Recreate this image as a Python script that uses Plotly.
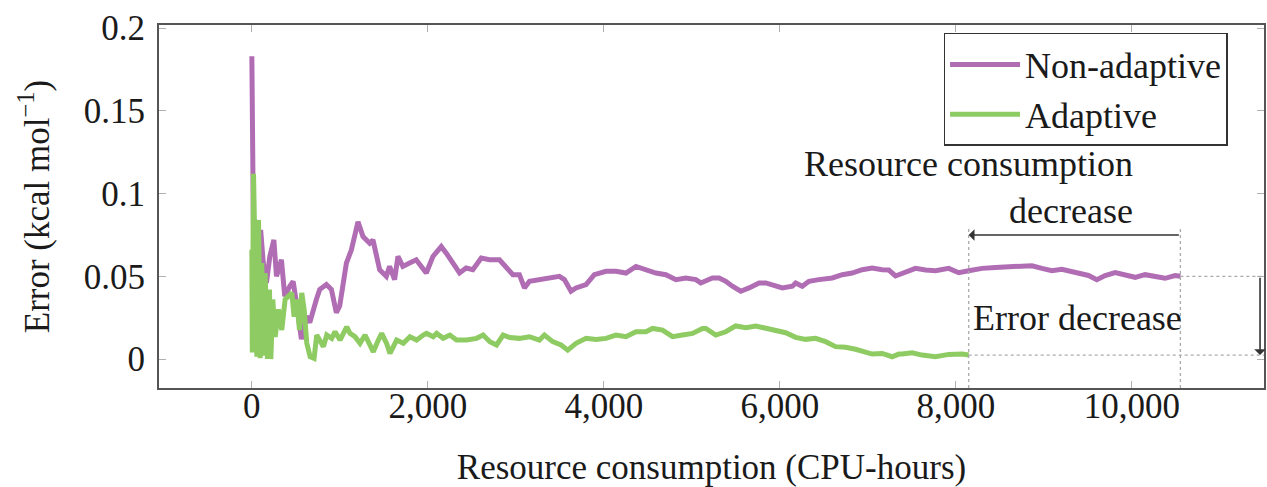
import plotly.graph_objects as go

# ---------------- data ----------------
nonadaptive_x = [0, 20, 40, 70, 100, 130, 166, 204, 250, 280, 336, 374, 431, 469, 507, 563, 620, 658,
                 733, 771, 847, 904, 960, 998, 1074, 1131, 1206, 1263, 1339, 1376, 1452, 1528, 1565,
                 1622, 1660, 1716, 1792, 1868, 1925, 1982, 2057, 2152, 2209, 2284, 2360, 2435, 2511,
                 2606, 2700, 2813, 2889, 2965, 3040, 3097, 3154, 3267, 3381, 3494, 3551, 3626, 3683,
                 3797, 3891, 4024, 4137, 4250, 4364, 4477, 4591, 4704, 4818, 4931, 5045, 5101, 5196,
                 5233, 5309, 5385, 5460, 5555, 5649, 5763, 5839, 5914, 6027, 6141, 6179, 6254, 6330,
                 6443, 6595, 6708, 6821, 6935, 7048, 7162, 7237, 7313, 7427, 7540, 7654, 7767, 7918,
                 8032, 8145, 8296, 8448, 8599, 8750, 8863, 8977, 9090, 9203, 9317, 9430, 9506, 9600,
                 9695, 9809, 9922, 10036, 10149, 10263, 10376, 10490, 10550]
nonadaptive_y = [0.183, 0.066, 0.084, 0.070, 0.078, 0.058, 0.046, 0.062, 0.072, 0.050, 0.060, 0.038,
                 0.044, 0.047, 0.034, 0.012, 0.026, 0.022, 0.036, 0.042, 0.045, 0.042, 0.028, 0.032,
                 0.058, 0.066, 0.083, 0.074, 0.070, 0.072, 0.054, 0.050, 0.056, 0.048, 0.062, 0.056,
                 0.058, 0.060, 0.056, 0.052, 0.062, 0.068, 0.064, 0.058, 0.052, 0.055, 0.054, 0.061,
                 0.060, 0.060, 0.056, 0.051, 0.051, 0.043, 0.047, 0.048, 0.049, 0.050, 0.048, 0.041,
                 0.043, 0.045, 0.051, 0.053, 0.053, 0.052, 0.056, 0.054, 0.052, 0.051, 0.048, 0.049,
                 0.048, 0.046, 0.048, 0.049, 0.049, 0.047, 0.044, 0.041, 0.043, 0.046, 0.046, 0.045,
                 0.043, 0.044, 0.046, 0.044, 0.047, 0.048, 0.049, 0.051, 0.052, 0.054, 0.055, 0.054,
                 0.0538, 0.0502, 0.0528, 0.0548, 0.0538, 0.0534, 0.0548, 0.0522, 0.0534, 0.0548,
                 0.0554, 0.0558, 0.0562, 0.0564, 0.0548, 0.0534, 0.0542, 0.0528, 0.0518, 0.0505,
                 0.0480, 0.0505, 0.0522, 0.0505, 0.0494, 0.0510, 0.0500, 0.0488, 0.0505, 0.0500]

adaptive_x = [0, 5, 19, 40, 57, 76, 95, 113, 132, 151, 178, 200, 216, 238, 265, 303, 340, 378, 416,
              454, 480, 510, 541, 567, 594, 624, 662, 707, 737, 775, 813, 851, 907, 945, 1002, 1078,
              1115, 1172, 1229, 1286, 1342, 1380, 1437, 1475, 1531, 1569, 1645, 1721, 1796, 1872,
              1948, 1985, 2061, 2099, 2174, 2250, 2326, 2439, 2553, 2628, 2704, 2780, 2855, 2931,
              3040, 3154, 3267, 3324, 3418, 3513, 3589, 3683, 3797, 3910, 4024, 4137, 4250, 4364,
              4477, 4553, 4666, 4780, 4893, 5007, 5120, 5158, 5271, 5385, 5498, 5612, 5725, 5839,
              5952, 6065, 6179, 6292, 6405, 6519, 6632, 6746, 6859, 6973, 7048, 7162, 7275, 7351,
              7389, 7502, 7616, 7767, 7918, 8070, 8145]
adaptive_y = [0.066, 0.004, 0.112, 0.030, 0.0014, 0.084, 0.0005, 0.058, 0.002, 0.052, 0.000, 0.042,
              0.000, 0.036, 0.0133, 0.030, 0.0175, 0.036, 0.038, 0.040, 0.0256, 0.036, 0.0175, 0.040,
              0.030, 0.0097, 0.0014, 0.0004, 0.0145, 0.0115, 0.0075, 0.0145, 0.0125, 0.0165, 0.0115,
              0.0195, 0.0155, 0.0135, 0.0095, 0.0145, 0.0075, 0.0044, 0.0115, 0.0155, 0.0095, 0.0034,
              0.0115, 0.0095, 0.0135, 0.0115, 0.0145, 0.0155, 0.0135, 0.0155, 0.0125, 0.0145, 0.0115,
              0.0115, 0.0125, 0.0145, 0.0105, 0.0085, 0.0145, 0.0130, 0.0125, 0.0135, 0.0115, 0.0145,
              0.0105, 0.0085, 0.0054, 0.0095, 0.0125, 0.0118, 0.0125, 0.0145, 0.0135, 0.0165, 0.0165,
              0.0185, 0.0175, 0.0135, 0.0145, 0.0155, 0.0185, 0.0185, 0.0145, 0.0165, 0.0200, 0.0190,
              0.0200, 0.0185, 0.0171, 0.0159, 0.0131, 0.0119, 0.0125, 0.0105, 0.0075, 0.0071, 0.0059,
              0.0044, 0.0030, 0.0034, 0.0014, 0.0030, 0.0030, 0.0038, 0.0024, 0.0014, 0.0028, 0.0030,
              0.0024]

x_ticks = [0, 2000, 4000, 6000, 8000, 10000]
y_ticks = [0, 0.05, 0.1, 0.15, 0.2]
series_names = ["Non-adaptive", "Adaptive"]

# ---------------- styling ----------------
FONT = "Liberation Serif"
FS = 35
PURPLE = "#b06db4"
GREEN = "#8ecb63"
X_RANGE = [-1055, 11500]
Y_RANGE = [-0.0175, 0.2019]

fig = go.Figure()
fig.add_trace(go.Scatter(x=nonadaptive_x, y=nonadaptive_y, mode="lines", name=series_names[0],
                         line=dict(color=PURPLE, width=5)))
fig.add_trace(go.Scatter(x=adaptive_x, y=adaptive_y, mode="lines", name=series_names[1],
                         line=dict(color=GREEN, width=5)))

end_na_x, end_na_y = nonadaptive_x[-1], nonadaptive_y[-1]
end_a_x, end_a_y = adaptive_x[-1], adaptive_y[-1]
arrow_y = 0.075
down_x = 11455

dot = dict(color="#aaaaaa", width=1.3, dash="dot")
shapes = [
    dict(type="line", xref="x", yref="y", x0=end_a_x, x1=end_a_x, y0=Y_RANGE[0], y1=0.080, line=dot),
    dict(type="line", xref="x", yref="y", x0=end_na_x, x1=end_na_x, y0=Y_RANGE[0], y1=0.080, line=dot),
    dict(type="line", xref="x", yref="y", x0=end_na_x, x1=X_RANGE[1], y0=end_na_y, y1=end_na_y, line=dot),
    dict(type="line", xref="x", yref="y", x0=end_a_x, x1=X_RANGE[1], y0=end_a_y, y1=end_a_y, line=dot),
]

annotations = [
    dict(x=end_a_x, y=arrow_y, ax=end_na_x, ay=arrow_y, xref="x", yref="y", axref="x", ayref="y",
         text="", showarrow=True, arrowhead=1, arrowsize=1.2, arrowwidth=1.6, arrowcolor="#333333"),
    dict(x=down_x, y=end_a_y, ax=down_x, ay=end_na_y, xref="x", yref="y", axref="x", ayref="y",
         text="", showarrow=True, arrowhead=1, arrowsize=1.2, arrowwidth=1.6, arrowcolor="#333333"),
    dict(x=10030, y=0.1034, xref="x", yref="y", text="Resource consumption<br>decrease",
         showarrow=False, xanchor="right", yanchor="middle", align="right",
         font=dict(family=FONT, size=36, color="#1a1a1a")),
    dict(x=8168, y=0.0248, xref="x", yref="y", text="Error decrease",
         showarrow=False, xanchor="left", yanchor="middle", align="left",
         font=dict(family=FONT, size=36, color="#1a1a1a")),
]

axis_common = dict(showgrid=False, zeroline=False, showline=True, linecolor="#555555", linewidth=2,
                   mirror="ticks", ticks="inside", ticklen=7, tickcolor="#b0b0b0", tickwidth=1.2,
                   tickfont=dict(family=FONT, size=FS, color="#1a1a1a"))

fig.update_layout(
    width=1267, height=487,
    margin=dict(l=159, r=1, t=25, b=99),
    plot_bgcolor="white", paper_bgcolor="white",
    font=dict(family=FONT, size=FS, color="#1a1a1a"),
    xaxis=dict(range=X_RANGE, tickvals=x_ticks, tickformat=",", ticklabelstandoff=-14,
               title=dict(text="Resource consumption (CPU-hours)", standoff=30,
                          font=dict(family=FONT, size=FS)),
               **axis_common),
    yaxis=dict(range=Y_RANGE, tickvals=y_ticks, ticklabelstandoff=5,
               ticktext=[f"{v:g}" for v in y_ticks],
               title=dict(text="Error (kcal mol<sup>−1</sup>)", standoff=24,
                          font=dict(family=FONT, size=FS)),
               **axis_common),
    legend=dict(x=0.710, y=0.978, xanchor="left", yanchor="top", bgcolor="white",
                bordercolor="#333333", borderwidth=1.5, itemwidth=70,
                font=dict(family=FONT, size=36, color="#1a1a1a"), tracegroupgap=0),
    shapes=shapes,
    annotations=annotations,
    showlegend=True,
)

fig.write_html("out.html", config={"displayModeBar": False},
               post_script="document.body.style.margin='0';document.body.style.overflow='hidden';")
